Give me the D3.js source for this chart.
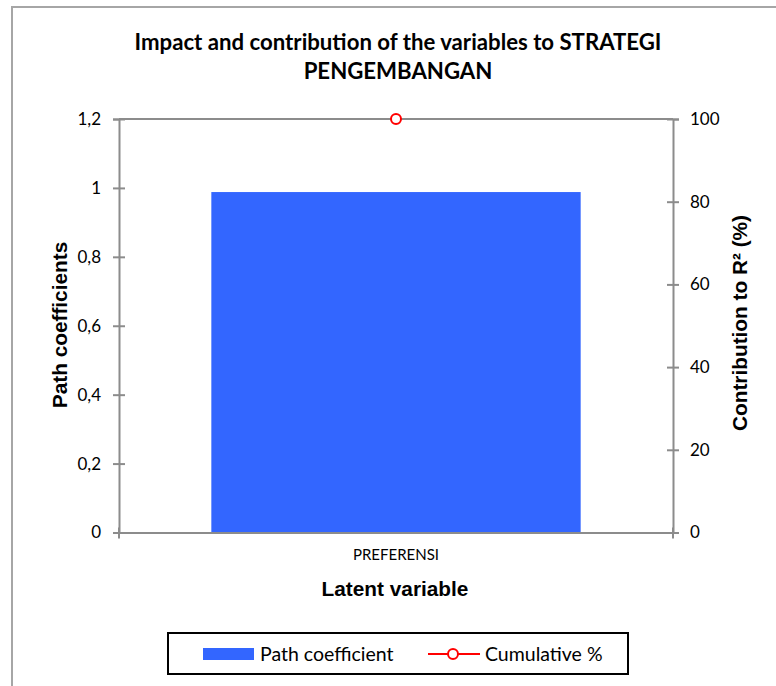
<!DOCTYPE html>
<html>
<head>
<meta charset="utf-8">
<script src="https://cdn.jsdelivr.net/npm/d3@7"></script>
<style>
  html, body { margin: 0; padding: 0; background: #fff; }
  svg { display: block; }
</style>
</head>
<body>
<svg id="chart" width="776" height="686"></svg>
<script>
// Chart data
const categories = ["PREFERENSI"];
const pathCoefficients = [0.988];
const cumulativePercent = [100];
const leftTicks = [0, 0.2, 0.4, 0.6, 0.8, 1, 1.2];
const rightTicks = [0, 20, 40, 60, 80, 100];

const svg = d3.select("#chart");
const plot = { left: 119, right: 673, top: 119, bottom: 532.5 };
const axisColor = "#8c8c8c";
const labelFont = "Lato, 'Open Sans', sans-serif";
const boldFont = "'Liberation Sans', Arial, sans-serif";

// Outer frame
svg.append("rect")
  .attr("x", 12).attr("y", 7)
  .attr("width", 820).attr("height", 720)
  .attr("fill", "#fff")
  .attr("stroke", "#a6a6a6").attr("stroke-width", 2);

// Scales
const x = d3.scaleBand().domain(categories)
  .range([plot.left, plot.right]).paddingInner(0.2).paddingOuter(0.2);
const yL = d3.scaleLinear().domain([0, 1.2]).range([plot.bottom, plot.top]);
const yR = d3.scaleLinear().domain([0, 100]).range([plot.bottom, plot.top]);

const fmt = d => d3.format(".1~f")(d).replace(".", ",");

// Bars
svg.append("g").selectAll("rect").data(categories).join("rect")
  .attr("x", d => x(d))
  .attr("y", (d, i) => yL(pathCoefficients[i]))
  .attr("width", x.bandwidth())
  .attr("height", (d, i) => yL(0) - yL(pathCoefficients[i]))
  .attr("fill", "#3366ff");

// Top border line of plot area
svg.append("line")
  .attr("x1", plot.left).attr("x2", plot.right)
  .attr("y1", plot.top).attr("y2", plot.top)
  .attr("stroke", axisColor).attr("stroke-width", 2);

// Left axis
const gL = svg.append("g").attr("transform", `translate(${plot.left},0)`)
  .call(d3.axisLeft(yL).tickValues(leftTicks).tickFormat(fmt).tickSize(6).tickPadding(12));
gL.select(".domain").attr("stroke", axisColor).attr("stroke-width", 2);
gL.selectAll(".tick line").attr("stroke", axisColor).attr("stroke-width", 2).attr("x2", 6).attr("x1", -6);
gL.selectAll(".tick text").attr("font-family", labelFont).attr("font-size", 17).attr("fill", "#000");

// Right axis
const gR = svg.append("g").attr("transform", `translate(${plot.right},0)`)
  .call(d3.axisRight(yR).tickValues(rightTicks).tickSize(6).tickPadding(11));
gR.select(".domain").attr("stroke", axisColor).attr("stroke-width", 2);
gR.selectAll(".tick line").attr("stroke", axisColor).attr("stroke-width", 2).attr("x1", -6).attr("x2", 6);
gR.selectAll(".tick text").attr("font-family", labelFont).attr("font-size", 17).attr("fill", "#000");

// Bottom (category) axis
const gB = svg.append("g").attr("transform", `translate(0,${plot.bottom})`)
  .call(d3.axisBottom(x).tickSize(0).tickPadding(17));
gB.select(".domain").attr("stroke", axisColor).attr("stroke-width", 2);
gB.selectAll(".tick text").attr("font-family", labelFont).attr("font-size", 15).attr("fill", "#000");
// category boundary ticks
gB.selectAll("line.edge").data([plot.left, plot.right]).join("line")
  .attr("class", "edge")
  .attr("x1", d => d).attr("x2", d => d)
  .attr("y1", -5).attr("y2", 6)
  .attr("stroke", axisColor).attr("stroke-width", 2);

// Cumulative % line with markers
const line = d3.line()
  .x((d, i) => x(categories[i]) + x.bandwidth() / 2)
  .y(d => yR(d));
svg.append("path").datum(cumulativePercent)
  .attr("d", line).attr("fill", "none").attr("stroke", "#ff0000").attr("stroke-width", 2);
svg.append("g").selectAll("circle").data(cumulativePercent).join("circle")
  .attr("cx", (d, i) => x(categories[i]) + x.bandwidth() / 2)
  .attr("cy", d => yR(d))
  .attr("r", 5)
  .attr("fill", "#fff").attr("stroke", "#ff0000").attr("stroke-width", 2);

// Title
const title = svg.append("text")
  .attr("text-anchor", "middle")
  .attr("font-family", labelFont).attr("font-weight", "bold").attr("font-size", 22.2)
  .attr("fill", "#000");
title.append("tspan").attr("x", 398).attr("y", 50).text("Impact and contribution of the variables to STRATEGI");
title.append("tspan").attr("x", 398).attr("y", 79).text("PENGEMBANGAN");

// Axis titles
const axisTitle = (sel) => sel
  .attr("text-anchor", "middle")
  .attr("font-family", boldFont).attr("font-weight", "bold").attr("font-size", 20.8);
svg.append("text").call(axisTitle)
  .attr("transform", "translate(67,325) rotate(-90)")
  .text("Path coefficients");
svg.append("text").call(axisTitle)
  .attr("transform", "translate(747,323) rotate(-90)")
  .text("Contribution to R² (%)");
svg.append("text").call(axisTitle)
  .attr("x", 395).attr("y", 596)
  .text("Latent variable");

// Legend
const lg = svg.append("g");
lg.append("rect")
  .attr("x", 168).attr("y", 633).attr("width", 460).attr("height", 41)
  .attr("fill", "#fff").attr("stroke", "#000").attr("stroke-width", 2);
lg.append("rect")
  .attr("x", 203).attr("y", 648).attr("width", 51).attr("height", 12)
  .attr("fill", "#3366ff");
lg.append("text")
  .attr("x", 260).attr("y", 661)
  .attr("font-family", labelFont).attr("font-size", 19.5)
  .text("Path coefficient");
lg.append("line")
  .attr("x1", 428).attr("x2", 480).attr("y1", 654).attr("y2", 654)
  .attr("stroke", "#ff0000").attr("stroke-width", 2);
lg.append("circle")
  .attr("cx", 453).attr("cy", 654).attr("r", 5)
  .attr("fill", "#fff").attr("stroke", "#ff0000").attr("stroke-width", 2);
lg.append("text")
  .attr("x", 485).attr("y", 661)
  .attr("font-family", labelFont).attr("font-size", 19.5)
  .text("Cumulative %");
</script>
</body>
</html>
